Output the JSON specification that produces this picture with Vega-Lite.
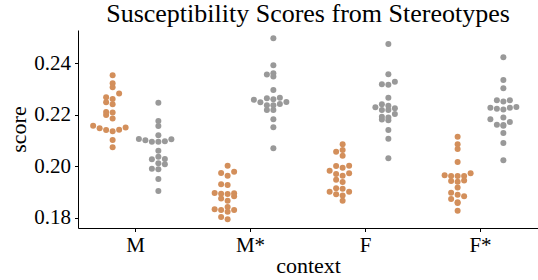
{
  "$schema": "https://vega.github.io/schema/vega-lite/v6.json",
  "width": 460,
  "height": 198,
  "autosize": "none",
  "padding": {"left": 78, "top": 30, "right": 0, "bottom": 52},
  "background": "white",
  "title": {"text": "Susceptibility Scores from Stereotypes", "font": "Liberation Serif", "fontSize": 26, "fontWeight": "normal", "color": "black", "anchor": "middle", "offset": 3},
  "config": {
    "view": {"stroke": null},
    "axis": {"labelFont": "Liberation Serif", "titleFont": "Liberation Serif", "labelFontSize": 21, "titleFontSize": 22, "titleFontWeight": "normal", "labelColor": "black", "titleColor": "black", "domainColor": "black", "tickColor": "black", "tickSize": 3.5, "grid": false, "domainWidth": 1}
  },
  "data": {"values": [
    {"context":"M","group":"A","score":0.2354},{"context":"M","group":"A","score":0.2323},{"context":"M","group":"A","score":0.2308},{"context":"M","group":"A","score":0.2283},{"context":"M","group":"A","score":0.2262},{"context":"M","group":"A","score":0.2269},{"context":"M","group":"A","score":0.2249},{"context":"M","group":"A","score":0.2242},{"context":"M","group":"A","score":0.2200},{"context":"M","group":"A","score":0.2210},{"context":"M","group":"A","score":0.2212},{"context":"M","group":"A","score":0.2186},{"context":"M","group":"A","score":0.2158},{"context":"M","group":"A","score":0.2151},{"context":"M","group":"A","score":0.2142},{"context":"M","group":"A","score":0.2137},{"context":"M","group":"A","score":0.2143},{"context":"M","group":"A","score":0.2148},{"context":"M","group":"A","score":0.2103},{"context":"M","group":"A","score":0.2075},
    {"context":"M","group":"B","score":0.2247},{"context":"M","group":"B","score":0.2177},{"context":"M","group":"B","score":0.2157},{"context":"M","group":"B","score":0.2121},{"context":"M","group":"B","score":0.2102},{"context":"M","group":"B","score":0.2096},{"context":"M","group":"B","score":0.2096},{"context":"M","group":"B","score":0.2098},{"context":"M","group":"B","score":0.2106},{"context":"M","group":"B","score":0.2107},{"context":"M","group":"B","score":0.2061},{"context":"M","group":"B","score":0.2038},{"context":"M","group":"B","score":0.2028},{"context":"M","group":"B","score":0.2029},{"context":"M","group":"B","score":0.2012},{"context":"M","group":"B","score":0.2009},{"context":"M","group":"B","score":0.1991},{"context":"M","group":"B","score":0.1989},{"context":"M","group":"B","score":0.1951},{"context":"M","group":"B","score":0.1905},
    {"context":"M*","group":"A","score":0.2003},{"context":"M*","group":"A","score":0.1975},{"context":"M*","group":"A","score":0.1964},{"context":"M*","group":"A","score":0.1979},{"context":"M*","group":"A","score":0.1931},{"context":"M*","group":"A","score":0.1928},{"context":"M*","group":"A","score":0.1897},{"context":"M*","group":"A","score":0.1896},{"context":"M*","group":"A","score":0.1894},{"context":"M*","group":"A","score":0.1884},{"context":"M*","group":"A","score":0.1893},{"context":"M*","group":"A","score":0.1867},{"context":"M*","group":"A","score":0.1876},{"context":"M*","group":"A","score":0.1843},{"context":"M*","group":"A","score":0.1831},{"context":"M*","group":"A","score":0.1824},{"context":"M*","group":"A","score":0.1831},{"context":"M*","group":"A","score":0.1834},{"context":"M*","group":"A","score":0.1804},{"context":"M*","group":"A","score":0.1795},
    {"context":"M*","group":"B","score":0.2498},{"context":"M*","group":"B","score":0.2393},{"context":"M*","group":"B","score":0.2357},{"context":"M*","group":"B","score":0.2349},{"context":"M*","group":"B","score":0.2362},{"context":"M*","group":"B","score":0.2297},{"context":"M*","group":"B","score":0.2267},{"context":"M*","group":"B","score":0.2250},{"context":"M*","group":"B","score":0.2259},{"context":"M*","group":"B","score":0.2261},{"context":"M*","group":"B","score":0.2249},{"context":"M*","group":"B","score":0.2265},{"context":"M*","group":"B","score":0.2238},{"context":"M*","group":"B","score":0.2243},{"context":"M*","group":"B","score":0.2238},{"context":"M*","group":"B","score":0.2219},{"context":"M*","group":"B","score":0.2219},{"context":"M*","group":"B","score":0.2183},{"context":"M*","group":"B","score":0.2152},{"context":"M*","group":"B","score":0.2071},
    {"context":"F","group":"A","score":0.2086},{"context":"F","group":"A","score":0.2057},{"context":"F","group":"A","score":0.2064},{"context":"F","group":"A","score":0.2042},{"context":"F","group":"A","score":0.2003},{"context":"F","group":"A","score":0.1995},{"context":"F","group":"A","score":0.2002},{"context":"F","group":"A","score":0.1983},{"context":"F","group":"A","score":0.1974},{"context":"F","group":"A","score":0.1964},{"context":"F","group":"A","score":0.1971},{"context":"F","group":"A","score":0.1948},{"context":"F","group":"A","score":0.1940},{"context":"F","group":"A","score":0.1915},{"context":"F","group":"A","score":0.1902},{"context":"F","group":"A","score":0.1913},{"context":"F","group":"A","score":0.1887},{"context":"F","group":"A","score":0.1892},{"context":"F","group":"A","score":0.1902},{"context":"F","group":"A","score":0.1867},
    {"context":"F","group":"B","score":0.2476},{"context":"F","group":"B","score":0.2358},{"context":"F","group":"B","score":0.2319},{"context":"F","group":"B","score":0.2317},{"context":"F","group":"B","score":0.2329},{"context":"F","group":"B","score":0.2267},{"context":"F","group":"B","score":0.2230},{"context":"F","group":"B","score":0.2219},{"context":"F","group":"B","score":0.2236},{"context":"F","group":"B","score":0.2219},{"context":"F","group":"B","score":0.2226},{"context":"F","group":"B","score":0.2242},{"context":"F","group":"B","score":0.2193},{"context":"F","group":"B","score":0.2204},{"context":"F","group":"B","score":0.2182},{"context":"F","group":"B","score":0.2179},{"context":"F","group":"B","score":0.2190},{"context":"F","group":"B","score":0.2142},{"context":"F","group":"B","score":0.2108},{"context":"F","group":"B","score":0.2032},
    {"context":"F*","group":"A","score":0.2115},{"context":"F*","group":"A","score":0.2086},{"context":"F*","group":"A","score":0.2068},{"context":"F*","group":"A","score":0.2017},{"context":"F*","group":"A","score":0.1963},{"context":"F*","group":"A","score":0.1974},{"context":"F*","group":"A","score":0.1966},{"context":"F*","group":"A","score":0.1963},{"context":"F*","group":"A","score":0.1963},{"context":"F*","group":"A","score":0.1945},{"context":"F*","group":"A","score":0.1941},{"context":"F*","group":"A","score":0.1944},{"context":"F*","group":"A","score":0.1918},{"context":"F*","group":"A","score":0.1890},{"context":"F*","group":"A","score":0.1884},{"context":"F*","group":"A","score":0.1898},{"context":"F*","group":"A","score":0.1874},{"context":"F*","group":"A","score":0.1861},{"context":"F*","group":"A","score":0.1858},{"context":"F*","group":"A","score":0.1828},
    {"context":"F*","group":"B","score":0.2424},{"context":"F*","group":"B","score":0.2336},{"context":"F*","group":"B","score":0.2304},{"context":"F*","group":"B","score":0.2257},{"context":"F*","group":"B","score":0.2252},{"context":"F*","group":"B","score":0.2257},{"context":"F*","group":"B","score":0.2231},{"context":"F*","group":"B","score":0.2224},{"context":"F*","group":"B","score":0.2221},{"context":"F*","group":"B","score":0.2228},{"context":"F*","group":"B","score":0.2228},{"context":"F*","group":"B","score":0.2183},{"context":"F*","group":"B","score":0.2190},{"context":"F*","group":"B","score":0.2173},{"context":"F*","group":"B","score":0.2161},{"context":"F*","group":"B","score":0.2158},{"context":"F*","group":"B","score":0.2162},{"context":"F*","group":"B","score":0.2130},{"context":"F*","group":"B","score":0.2091},{"context":"F*","group":"B","score":0.2024}
  ]},
  "transform": [
    {"calculate": "floor((datum.score - 0.0010) / 0.0025)", "as": "row"},
    {"window": [{"op": "row_number", "as": "r"}], "sort": [{"field": "score", "order": "ascending"}], "groupby": ["context", "group", "row"]},
    {"calculate": "(datum.r % 2 == 0 ? -1 : 1) * floor(datum.r / 2) + (datum.group == 'A' ? -3.52 : 3.52)", "as": "swarm"}
  ],
  "mark": {"type": "circle", "size": 36, "opacity": 1, "strokeWidth": 0},
  "encoding": {
    "x": {"field": "context", "type": "nominal", "sort": ["M", "M*", "F", "F*"], "scale": {"paddingInner": 0, "paddingOuter": 0}, "axis": {"title": "context", "labelAngle": 0, "labelPadding": 3, "titlePadding": 0}},
    "xOffset": {"field": "swarm", "type": "quantitative", "scale": {"domain": [-8.85, 8.85], "range": [0, 115]}},
    "y": {"field": "score", "type": "quantitative", "scale": {"domain": [0.1761, 0.2530], "nice": false, "zero": false}, "axis": {"title": "score", "values": [0.18, 0.20, 0.22, 0.24], "format": ".2f", "labelPadding": 4, "titlePadding": 3}},
    "color": {"field": "group", "type": "nominal", "scale": {"domain": ["A", "B"], "range": ["#d38f5b", "#999999"]}, "legend": null}
  }
}
